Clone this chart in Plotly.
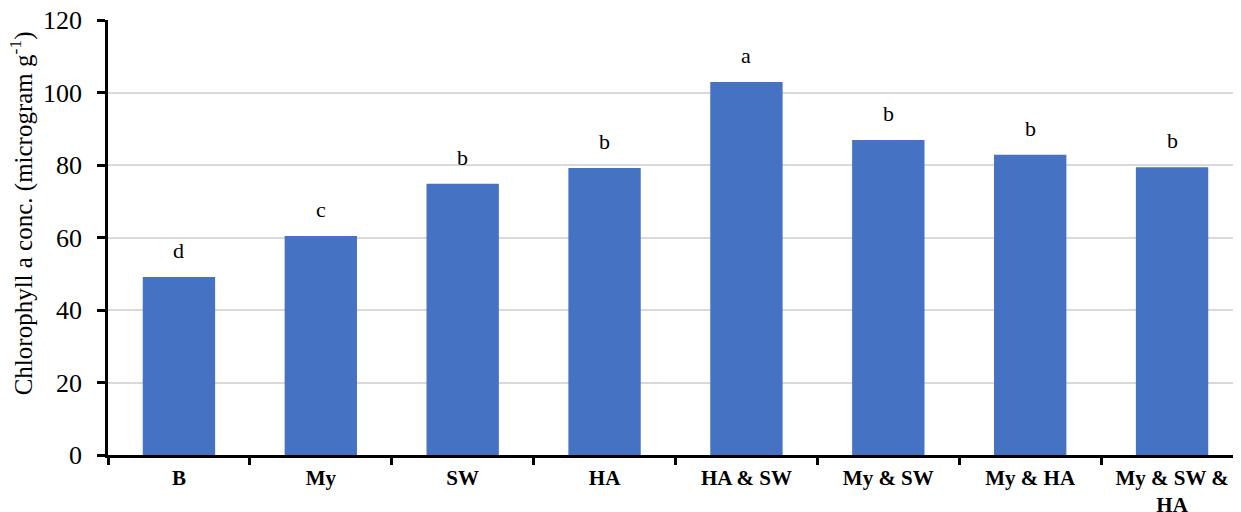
import plotly.graph_objects as go

categories = ["B", "My", "SW", "HA", "HA & SW", "My & SW", "My & HA", "My & SW &<br>HA"]
values = [49.1, 60.4, 74.8, 79.2, 102.9, 86.9, 82.8, 79.4]
letters = ["d", "c", "b", "b", "a", "b", "b", "b"]
y_ticks = [0, 20, 40, 60, 80, 100, 120]

FONT = "Liberation Serif"

fig = go.Figure()
fig.add_trace(go.Bar(
    x=categories, y=values,
    marker=dict(color="#4672c4", line=dict(width=0)),
    hoverinfo="skip",
))

for c, v, t in zip(categories, values, letters):
    fig.add_annotation(x=c, y=v, text=t, showarrow=False, yanchor="bottom",
                       yshift=12, font=dict(family=FONT, size=22, color="#000"))

fig.add_annotation(
    text="Chlorophyll a conc. (microgram g<sup>-1</sup>)",
    xref="paper", yref="paper", x=-0.076, y=0.555,
    xanchor="center", yanchor="middle", textangle=-90, showarrow=False,
    font=dict(family=FONT, size=25, color="#000"),
)

# the page body has an 8px margin, so margins compensate for it
fig.update_layout(
    width=1241, height=512,
    margin=dict(l=100, r=6, t=12, b=65),
    plot_bgcolor="white", paper_bgcolor="white",
    bargap=0.49,
    showlegend=False,
    font=dict(family=FONT, color="#000"),
)
fig.update_xaxes(
    automargin=False,
    showline=True, linecolor="#000", linewidth=2.5,
    ticks="outside", tickson="boundaries", ticklen=7, tickwidth=2.5, tickcolor="#000",
    tickfont=dict(family=FONT, size=21, color="#000", weight="bold"),
    ticklabelstandoff=2, ticklabeloverflow="allow",
    showgrid=False,
)
fig.update_yaxes(
    automargin=False,
    range=[0, 120], tickvals=y_ticks,
    showline=True, linecolor="#000", linewidth=2.5,
    ticks="outside", ticklen=8, tickwidth=2.5, tickcolor="#000",
    tickfont=dict(family=FONT, size=26, color="#000"),
    ticklabelstandoff=10, ticklabeloverflow="allow",
    showgrid=True, gridcolor="#d9d9d9", gridwidth=1.5,
    zeroline=False,
)

fig.write_html("out.html")
